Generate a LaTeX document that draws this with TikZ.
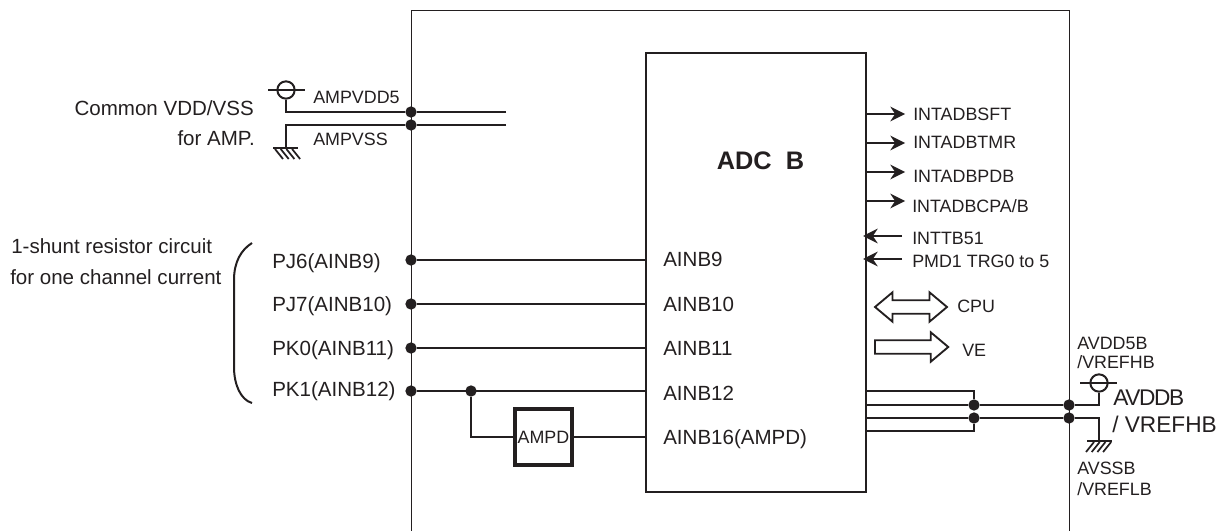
\documentclass[tikz,border=0pt]{standalone}
\usepackage{fontspec}
\setmainfont{Liberation Sans}
\usetikzlibrary{arrows.meta,shapes.arrows}
\definecolor{inkdark}{HTML}{231F20}
\begin{document}
\begin{tikzpicture}[
	x=0.75pt,y=-0.75pt,color=inkdark,
	lbl/.style={anchor=base west,inner sep=0pt,font=\fontsize{15.4}{18}\selectfont},
	sig/.style={anchor=base west,inner sep=0pt,font=\fontsize{13.4}{16}\selectfont},
	big/.style={anchor=base west,inner sep=0pt,font=\fontsize{17}{20}\selectfont},
	wire/.style={line width=1.7pt},
	pin/.style={fill=inkdark,circle,inner sep=0pt,minimum size=8.5pt},
	box/.style={draw=inkdark,line width=2.1pt,inner sep=0pt},
	vdd/.style={draw=inkdark,line width=1.5pt,circle,inner sep=0pt,minimum size=13pt},
	bar/.style={line width=1.5pt},
	hatch/.style={line width=1.3pt},
	irq/.style={-{Stealth[length=11pt,width=11pt]},line width=1.4pt},
	bus/.style={draw=inkdark,line width=1.4pt,inner sep=3.6pt,minimum width=22pt}
	]
	\useasboundingbox (0,0) rectangle (1223,531);
	% frame, open at the bottom
	\coordinate (fl) at (411,531);
	\coordinate (fr) at (1069,531);
	\draw[line width=0.7pt] (fl) -- (411,10) -- (1069,10) -- (fr);
	\node[box,minimum width=165pt,minimum height=329.25pt] (adc) at (756,272.5) {};
	\node[anchor=base,inner sep=0pt,font=\fontsize{19}{22}\selectfont\bfseries] (adct) at (760.5,170) {ADC\ \ B};
	% amp supply
	\node[pin] (d1) at (411,112) {};
	\node[pin] (d2) at (411,125) {};
	\coordinate (r1) at (506,112);
	\coordinate (r2) at (506,125);
	\node[vdd] (v1) at (286,90) {};
	\coordinate (g1) at (286,148);
	\draw[wire] (r1) -- (d1) -- (286,112) -- (v1);
	\draw[wire] (r2) -- (d2) -- (286,125) -- (g1);
	\draw[bar] (268,90) -- (305,90);
	\draw[bar] (273,148) -- (298,148);
	\foreach \i in {0,1,2,3}
		\draw[hatch] (275+\i*5.7,149) -- (283+\i*5.7,159);
	\node[lbl,anchor=base east] (amp1) at (254,116) {Common VDD/VSS};
	\node[lbl,anchor=base east] (amp2) at (255,146) {for AMP.};
	\node[sig] (ampv) at (313,104) {AMPVDD5};
	\node[sig] (amps) at (313,146) {AMPVSS};
	% analog inputs
	\foreach \y/\n/\ly/\t in {260/p9/268/PJ6(AINB9),304/p10/311/PJ7(AINB10),348/p11/355/PK0(AINB11),391/p12/396/PK1(AINB12)}{
		\node[pin] (\n) at (411,\y) {};
		\coordinate (e\n) at (646,\y);
		\draw[wire] (\n) -- (e\n);
		\node[lbl] (l\n) at (272,\ly) {\t};
	}
	\foreach \ly/\n/\t in {266/a9/AINB9,311/a10/AINB10,355/a11/AINB11,400/a12/AINB12,444/a16/AINB16(AMPD)}
		\node[lbl] (\n) at (663,\ly) {\t};
	\node[pin] (tap) at (471,391) {};
	\node[draw=inkdark,line width=2.6pt,minimum width=43pt,minimum height=42pt,inner sep=0pt,font=\fontsize{13.4}{16}\selectfont] (ampd) at (543.5,437) {AMPD};
	\coordinate (e16) at (646,437);
	\draw[wire] (tap) |- (ampd.west);
	\draw[wire] (ampd.east) -- (e16);
	% brace and its text
	\coordinate (bt) at (252,243);
	\coordinate (bb) at (252,403);
	\draw[line width=1.5pt] (bt) .. controls (241,250) and (234,262) .. (234,280) -- (234,367) .. controls (234,385) and (241,400) .. (bb);
	\node[lbl] (sh1) at (11,253) {1-shunt resistor circuit};
	\node[lbl] (sh2) at (10,284) {for one channel current};
	% interrupts
	\foreach \y/\ly/\x/\n/\t in {114/121/913/s1/INTADBSFT,143/149/913/s2/INTADBTMR,172/182/913/s3/INTADBPDB,201/212/912/s4/{INTADBCPA/B}}{
		\coordinate (o\n) at (866,\y);
		\coordinate (t\n) at (905,\y);
		\draw[irq] (o\n) -- (t\n);
		\node[sig] (\n) at (\x,\ly) {\t};
	}
	\foreach \y/\ly/\n/\t in {236/244/i1/INTTB51,259/267/i2/PMD1 TRG0 to 5}{
		\coordinate (o\n) at (902,\y);
		\coordinate (t\n) at (863,\y);
		\draw[irq] (o\n) -- (t\n);
		\node[sig] (\n) at (912,\ly) {\t};
	}
	\node[bus,double arrow,minimum height=54pt,double arrow head extend=5pt,double arrow tip angle=80] (cpu) at (911,307) {};
	\node[bus,single arrow,minimum height=55pt,single arrow head extend=5pt,single arrow tip angle=80,anchor=tail] (ve) at (874,347) {};
	\node[sig] (cput) at (957,312) {CPU};
	\node[sig] (vet) at (962,356) {VE};
	% adc supply
	\node[pin] (d3) at (974,405) {};
	\node[pin] (d4) at (974,418) {};
	\node[pin] (d5) at (1069,405) {};
	\node[pin] (d6) at (1069,418) {};
	\foreach \y/\n in {391/a,405/b,418/c,431/d}
		\coordinate (q\n) at (866,\y);
	\draw[wire] (qa) -- (974,391) -- (d3);
	\draw[wire] (qb) -- (d3) -- (d5);
	\draw[wire] (qc) -- (d4) -- (d6);
	\draw[wire] (qd) -- (974,431) -- (d4);
	\node[vdd] (v2) at (1099,383) {};
	\coordinate (g2) at (1099,441);
	\draw[wire] (d5) -- (1099,405) -- (v2);
	\draw[wire] (d6) -- (1099,418) -- (g2);
	\draw[bar] (1080,383) -- (1117,383);
	\draw[bar] (1087,441) -- (1112,441);
	\foreach \i in {0,1,2,3}
		\draw[hatch] (1094+\i*5.7,442) -- (1086+\i*5.7,452);
	\node[sig] (av1) at (1077,349) {AVDD5B};
	\node[sig] (av2) at (1077,368) {/VREFHB};
	\node[big] (av3) at (1113,405) {\addfontfeature{LetterSpace=-6}AVDDB};
	\node[big] (av4) at (1112,432) {/ VREFHB};
	\node[sig] (av5) at (1077,474) {AVSSB};
	\node[sig] (av6) at (1077,495) {/VREFLB};
\end{tikzpicture}
\end{document}
